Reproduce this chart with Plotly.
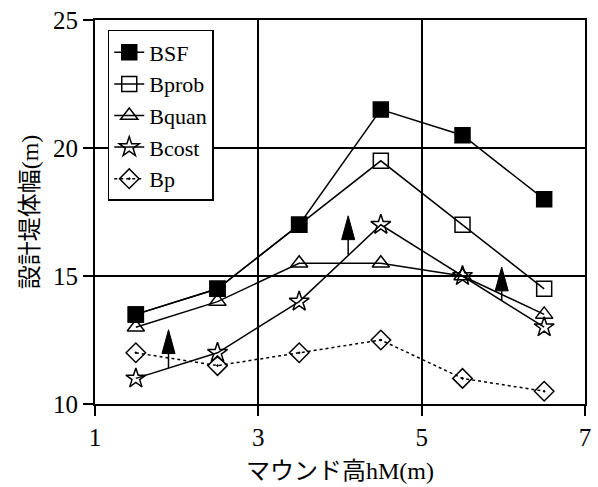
import plotly.graph_objects as go

# Mound height (m)
mound_height = [1.5, 2.5, 3.5, 4.5, 5.5, 6.5]

# Design caisson width (m) for each method
b_sf = [13.5, 14.5, 17.0, 21.5, 20.5, 18.0]
b_prob = [13.5, 14.5, 17.0, 19.5, 17.0, 14.5]
b_quan = [13.0, 14.0, 15.5, 15.5, 15.0, 13.5]
b_cost = [11.0, 12.0, 14.0, 17.0, 15.0, 13.0]
b_p = [12.0, 11.5, 12.0, 12.5, 11.0, 10.5]

# Upward arrows: x position, tail (on Bcost line) and tip heights
arrow_x = [1.9, 4.1, 5.98]
arrow_tail = [11.4, 15.83, 14.04]
arrow_tip = [12.9, 17.35, 15.35]

x_ticks = [1, 3, 5, 7]
y_ticks = [10, 15, 20, 25]

FONT = "Liberation Serif, Noto Sans CJK JP, serif"

series = [
    ("BSF", b_sf, "square", "solid", 15),
    ("Bprob", b_prob, "square-open", "solid", 15),
    ("Bquan", b_quan, "triangle-up-open", "solid", 15),
    ("Bcost", b_cost, "star-open", "solid", 15),
    ("Bp", b_p, "diamond-open-dot", "dot", 15),
]

fig = go.Figure()
for name, vals, sym, dash, size in series:
    fig.add_trace(go.Scatter(
        x=mound_height, y=vals, name=name, mode="lines+markers",
        line=dict(color="black", width=1.5, dash=dash),
        marker=dict(symbol=sym, size=size,
                    color="black", line=dict(color="black", width=1.5)),
    ))

# Arrows drawn as stem + filled triangular head
head_len = 0.93
head_half = 0.08
shapes = []
for ax, tail, tip in zip(arrow_x, arrow_tail, arrow_tip):
    base = tip - head_len
    shapes.append(dict(type="line", xref="x", yref="y", x0=ax, x1=ax,
                       y0=tail, y1=base, line=dict(color="black", width=1.5)))
    shapes.append(dict(type="path", xref="x", yref="y",
                       path=f"M {ax - head_half},{base} L {ax},{tip} L {ax + head_half},{base} Z",
                       fillcolor="black", line=dict(color="black", width=1)))

fig.update_layout(
    width=598, height=487,
    margin=dict(l=95, r=7, t=19, b=83),
    paper_bgcolor="white", plot_bgcolor="white",
    font=dict(family=FONT, color="black", size=22),
    shapes=shapes,
    showlegend=True,
    legend=dict(x=0.026, y=0.974, xanchor="left", yanchor="top",
                bgcolor="white", bordercolor="black", borderwidth=1.5,
                font=dict(family=FONT, size=22), itemwidth=30,
                tracegroupgap=0),
    xaxis=dict(range=[1, 7], tickvals=x_ticks, ticks="outside", ticklen=10,
               tickwidth=1.5, tickcolor="black", showgrid=True,
               gridcolor="black", gridwidth=1.5, zeroline=False,
               showline=True, linecolor="black", linewidth=2, mirror=True,
               tickfont=dict(family=FONT, size=25),
               title=dict(text="マウンド高hM(m)", standoff=12,
                          font=dict(family=FONT, size=24))),
    yaxis=dict(range=[10, 25], tickvals=y_ticks, ticks="outside", ticklen=10,
               tickwidth=1.5, tickcolor="black", showgrid=True,
               gridcolor="black", gridwidth=1.5, zeroline=False,
               showline=True, linecolor="black", linewidth=2, mirror=True,
               tickfont=dict(family=FONT, size=25),
               title=dict(text="設計堤体幅(m)", standoff=8,
                          font=dict(family=FONT, size=24))),
)

fig.write_html("out.html", config={"displayModeBar": False})
